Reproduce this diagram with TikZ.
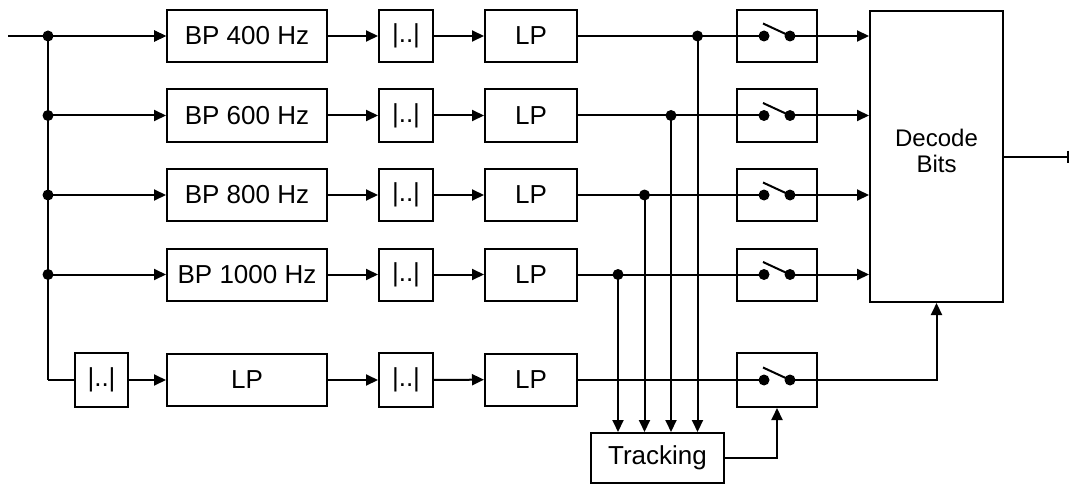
\documentclass[tikz,border=0pt]{standalone}
\usepackage{fontspec}
\setmainfont{Liberation Sans}
\usetikzlibrary{arrows.meta}
\begin{document}
\begin{tikzpicture}[x=1pt,y=-1pt,
  line width=2pt,
  box/.style={draw,line width=2pt,rectangle,inner sep=0pt,font=\fontsize{26}{28}\selectfont},
  arr/.style={-{Triangle[length=12pt,width=11pt]}},
  dot/.style={circle,fill,inner sep=0pt,minimum size=11pt}]
\useasboundingbox (0,0) rectangle (1070,484);
% big blocks
\node[box,minimum width=133pt,minimum height=291pt] (decode) at (936.5,156.5) {};
\node[align=center,font=\fontsize{24}{26}\selectfont] (dectxt) at (936.5,151) {Decode\\Bits};
\node[box,minimum width=133pt,minimum height=50pt] (trk) at (657.5,458) {Tracking};
% input
\coordinate (in) at (8,36);
\coordinate (jc) at (48,380);
% four band rows
\foreach \i/\y/\f/\bx in {1/36/400/697.5, 2/115.5/600/671, 3/195/800/644.5, 4/274.5/1000/618} {
  \node[box,minimum width=160pt,minimum height=52pt] (bp\i) at (247,\y) {BP \f\ Hz};
  \node[box,minimum width=54pt,minimum height=52pt] (ab\i) at (406,\y) {|..|};
  \node[box,minimum width=92pt,minimum height=52pt] (lp\i) at (531,\y) {LP};
  \node[box,minimum width=80pt,minimum height=52pt] (sw\i) at (777,\y) {};
  \coordinate (swl\i) at (764,\y);
  \coordinate (swr\i) at (790,\y);
  \node[dot] (j\i) at (48,\y) {};
  \node[dot] (br\i) at (\bx,\y) {};
  \draw[arr] (j\i.center) -- (bp\i);
  \draw[arr] (bp\i) -- (ab\i);
  \draw[arr] (ab\i) -- (lp\i);
  \draw (lp\i) -- (swl\i);
  \draw[arr] (swr\i) -- (swr\i -| decode.west);
  \draw (swl\i) ++(-1,-12.5) -- (swr\i);
  \node[dot] at (swl\i) {};
  \node[dot] at (swr\i) {};
  \draw[arr] (br\i.center) -- (br\i |- trk.north);
}
% input line and vertical bus
\draw[arr] (in) -- (j1.center) -- (bp1);
\draw (j1.center) -- (jc);
% bottom row
\node[box,minimum width=53pt,minimum height=54pt] (ab0) at (101.5,380) {|..|};
\node[box,minimum width=160pt,minimum height=52pt] (lp0) at (247,380) {LP};
\node[box,minimum width=54pt,minimum height=54pt] (ab5) at (406,380) {|..|};
\node[box,minimum width=92pt,minimum height=52pt] (lp5) at (531,379.5) {LP};
\node[box,minimum width=80pt,minimum height=54pt] (sw5) at (777,380) {};
\coordinate (swl5) at (764,380);
\coordinate (swr5) at (790,380);
\draw (jc) -- (ab0);
\draw[arr] (ab0) -- (lp0);
\draw[arr] (lp0) -- (ab5);
\draw[arr] (ab5) -- (lp5);
\draw (lp5.east |- swl5) -- (swl5);
\draw (swl5) ++(-1,-12.5) -- (swr5);
\node[dot] at (swl5) {};
\node[dot] at (swr5) {};
\draw[arr] (swr5) -| (decode.south);
\draw[arr] (trk.east) -| (sw5.south);
% output
\coordinate (out) at (1068.5,156.5);
\draw[-{Bar[width=12pt,line width=1.4pt]}] (decode.east) -- (out);
\end{tikzpicture}
\end{document}
